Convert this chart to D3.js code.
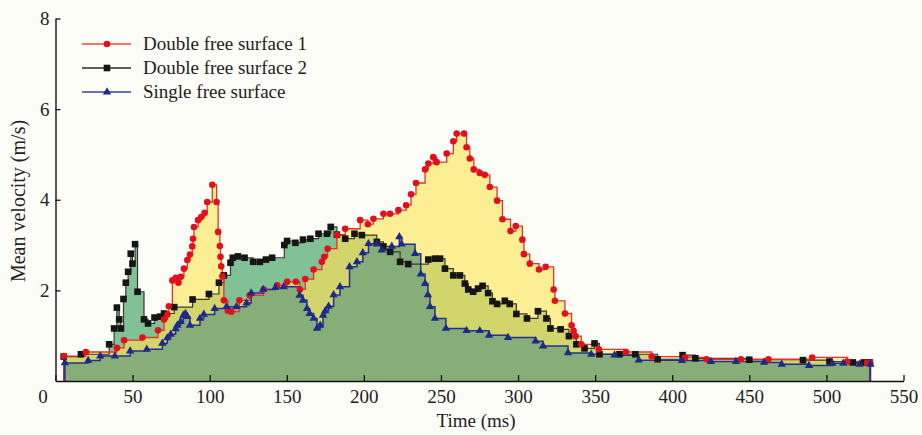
<!DOCTYPE html>
<html><head><meta charset="utf-8">
<script src="https://cdn.jsdelivr.net/npm/d3@7"></script>
<style>
body{margin:0;background:#fdfdf8;}
svg{display:block;font-family:"Liberation Serif","Times New Roman",serif;}
</style>
</head><body>
<svg id="chart" width="922" height="435"></svg>
<script>
// ---------- data ----------
const seriesNames = ["Double free surface 1", "Double free surface 2", "Single free surface"];
const xTicks = [0, 50, 100, 150, 200, 250, 300, 350, 400, 450, 500, 550];
const yTicks = [2, 4, 6, 8];

const timeRed = [5.5,19.7,39.8,44.5,56.4,66.5,70.4,72.6,73.5,75.8,78,79.7,81.2,83.3,85.5,87.2,88.7,89.2,89.8,92.5,94.5,96.7,98.4,101.7,104.5,105.5,106.6,107,107.5,108.2,109.2,111.8,114,119.3,126,135,143.7,150.2,156,158.5,162,167.4,172.8,174.3,176.5,182.5,187.9,197.6,202.6,206.2,212.7,217,222.4,227.4,230.6,233.8,239.7,241.8,245,247.2,253.7,258,260.2,265,266.6,268.7,271.3,275.2,278.4,281.7,286.4,289.9,295.1,298.5,302.8,303.8,307.6,313.6,317.9,323.1,323.9,330.4,334.7,336,337.3,341,352.4,370,386.7,408.3,422.3,444.5,462.4,490.8,513.5,526.4,528.5];
const velRed  = [0.55,0.64,0.73,0.90,0.96,1.12,1.36,1.47,1.65,2.22,2.28,2.17,2.30,2.48,2.67,2.79,2.97,3.14,3.40,3.55,3.62,3.71,3.95,4.33,3.95,3.29,2.98,2.74,2.53,2.31,1.78,1.55,1.53,1.78,1.89,2.02,2.11,2.19,2.19,2.02,2.25,2.46,2.63,2.74,2.92,3.22,3.36,3.55,3.46,3.58,3.69,3.69,3.77,3.88,4.12,4.37,4.67,4.80,4.94,4.83,5.02,5.29,5.46,5.46,5.16,4.91,4.67,4.59,4.55,4.28,3.98,3.57,3.31,3.42,3.12,2.80,2.59,2.46,2.52,2.02,1.77,1.49,1.23,1.11,0.99,0.81,0.70,0.64,0.54,0.52,0.48,0.48,0.48,0.52,0.43,0.40,0.40];

const timeBlack = [5.3,16.5,34.8,38,39.8,41.3,42.4,44.1,45.6,47.1,48.8,49.9,51.6,53.2,57.4,60,64.2,67.8,70.4,77,88.9,99.5,106,109.2,113.5,115,118.3,122.6,128.2,132.5,136.5,140.5,148.4,150.2,155.6,160.5,165.3,170.6,176.1,178.5,182.5,187.9,193.9,198.7,208.4,212.7,217,223.5,228.8,241.8,246.1,249.4,252.6,258,262.3,265.5,267.7,270.9,274.1,277,280.6,283.4,286.4,291.4,294.6,298.9,305.8,312.9,318.4,321,327.6,333,337.8,343.1,349.6,352.8,365.8,376.1,390.5,406.7,415,450,484.8,502,517.1,524.3,528];
const velBlack  = [0.54,0.59,0.81,1.16,1.62,1.36,1.16,1.81,2.17,2.41,2.81,2.59,3.02,1.97,1.36,1.27,1.40,1.42,1.49,1.63,1.80,1.92,2.17,2.33,2.61,2.72,2.75,2.72,2.63,2.63,2.68,2.72,3.00,3.09,3.05,3.12,3.14,3.25,3.25,3.40,3.23,3.14,3.25,3.22,3.07,2.97,2.85,2.63,2.58,2.68,2.70,2.70,2.48,2.33,2.33,2.15,2.02,1.97,2.04,2.10,1.94,1.76,1.70,1.77,1.70,1.48,1.38,1.54,1.38,1.16,1.14,0.99,0.81,0.72,0.83,0.59,0.59,0.59,0.48,0.57,0.50,0.47,0.46,0.43,0.41,0.41,0.41];

const timeBlue = [6.1,21.2,29,38.5,48.4,59.2,69.3,72.5,74.7,77.9,79,81.2,82.9,84.3,85.5,87.2,93.7,96.2,103.2,110.9,117.4,123.9,126.9,134.7,142.6,148,158.3,160.5,163.1,164.8,167.4,169.6,171.7,173.5,175,177.1,180.4,184.5,190.7,195.5,199.3,203,208.4,211.6,218.1,223,224.5,233.2,236.9,239.7,241.5,242.9,246.1,253.2,266.6,275.2,281.2,293.5,311.4,316.2,332.4,347.5,362.6,378.3,406.3,425.1,441.3,459.6,471,488.7,503.8,510.9,521.5,528.6];
const velBlue  = [0.40,0.45,0.55,0.55,0.66,0.70,0.83,0.95,1.03,1.15,1.23,1.31,1.45,1.49,1.42,1.23,1.38,1.47,1.60,1.64,1.64,1.72,1.94,2.02,2.06,2.08,1.89,1.78,1.60,1.49,1.38,1.16,1.23,1.45,1.55,1.65,1.90,2.08,2.52,2.63,2.83,3.03,3.02,2.89,2.97,3.18,3.02,2.81,2.36,2.15,1.90,1.64,1.38,1.16,1.11,1.11,1.01,0.96,0.88,0.77,0.62,0.59,0.57,0.46,0.45,0.43,0.43,0.41,0.37,0.34,0.39,0.39,0.37,0.37];

// ---------- setup ----------
const svg = d3.select("#chart");
const x = d3.scaleLinear().domain([0, 550]).range([55.5, 903.5]);
const y = d3.scaleLinear().domain([0, 8]).range([381, 18.5]);

const zip = (ts, vs) => ts.map((t, i) => ({t, v: vs[i]}));
const red = zip(timeRed, velRed), black = zip(timeBlack, velBlack), blue = zip(timeBlue, velBlue);

function valAt(s, t) {
  if (t < s[0].t || t > s[s.length - 1].t) return 0;
  const i = d3.bisectRight(s.map(d => d.t), t) - 1;
  return s[i].v;
}
// overlap of red & black step curves
const t0 = Math.max(red[0].t, black[0].t), t1 = Math.min(red[red.length-1].t, black[black.length-1].t);
const ts = Array.from(new Set([...timeRed, ...timeBlack])).filter(t => t >= t0 && t <= t1).sort((a,b)=>a-b);
const overlap = ts.map(t => ({t, v: Math.min(valAt(red, t), valAt(black, t))}));

const area = d3.area().curve(d3.curveStepAfter).x(d => x(d.t)).y0(y(0)).y1(d => y(d.v));
const line = d3.line().curve(d3.curveStepAfter).x(d => x(d.t)).y(d => y(d.v));

const cYellow = "#fcef93", cTeal = "#80c195", cOlive = "#d2d46c", cGreen = "#87ad78";
const cRed = "#e8302c", cBlack = "#1c1c1c", cBlue = "#25308c";

svg.append("path").attr("d", area(red)).attr("fill", cYellow);
svg.append("path").attr("d", area(black)).attr("fill", cTeal);
svg.append("path").attr("d", area(overlap)).attr("fill", cOlive);
svg.append("path").attr("d", area(blue)).attr("fill", cGreen);

// closed outlines (include verticals down to baseline)
function outline(s){ return line([{t:s[0].t, v:0}, ...s, {t:s[s.length-1].t, v:0}]); }
svg.append("path").attr("d", outline(black)).attr("fill","none").attr("stroke","#3a3a30").attr("stroke-width",1.2);
svg.append("path").attr("d", outline(red)).attr("fill","none").attr("stroke",cRed).attr("stroke-width",1.3);
svg.append("path").attr("d", outline(blue)).attr("fill","none").attr("stroke",cBlue).attr("stroke-width",1.5);

// markers
const gM = svg.append("g");
gM.selectAll(".mb").data(black).join("rect")
  .attr("x", d => x(d.t) - 3.3).attr("y", d => y(d.v) - 3.3)
  .attr("width", 6.6).attr("height", 6.6).attr("fill", "#151515");
gM.selectAll(".mr").data(red).join("circle")
  .attr("cx", d => x(d.t)).attr("cy", d => y(d.v)).attr("r", 3.3).attr("fill", "#e2101c");
const tri = d3.symbol().type(d3.symbolTriangle).size(30);
gM.selectAll(".mt").data(blue).join("path")
  .attr("d", tri).attr("transform", d => `translate(${x(d.t)},${y(d.v)})`).attr("fill", "#1e2a88");

// ---------- axes ----------
const fs = 19;
const gx = svg.append("g").attr("transform", `translate(0,${y(0)})`)
  .call(d3.axisBottom(x).tickValues(xTicks).tickSizeInner(-6).tickSizeOuter(0).tickPadding(9)
    .tickFormat(d => d === 0 ? "" : d));
const gy = svg.append("g").attr("transform", `translate(${x(0)},0)`)
  .call(d3.axisLeft(y).tickValues(yTicks).tickSizeInner(-5).tickSizeOuter(0).tickPadding(6));
[gx, gy].forEach(g => {
  g.select(".domain").attr("stroke", "#111").attr("stroke-width", 1.4);
  g.selectAll(".tick line").attr("stroke", "#111").attr("stroke-width", 1.3);
  g.selectAll("text").attr("font-size", fs).attr("fill", "#222").attr("font-family", "Liberation Serif");
});
svg.append("text").attr("x", 43).attr("y", y(0) + 9).attr("dy", "0.71em").attr("text-anchor", "middle")
  .attr("font-size", fs).attr("fill", "#222").text(xTicks[0]);

svg.append("text").attr("x", 476).attr("y", 427).attr("text-anchor", "middle")
  .attr("font-size", fs).attr("fill", "#222").text("Time (ms)");
svg.append("text").attr("transform", "translate(25,201) rotate(-90)").attr("text-anchor", "middle")
  .attr("font-size", 20).attr("fill", "#222").text("Mean velocity (m/s)");

// ---------- legend ----------
const legColors = ["#ef4b3c", "#2a2a2a", "#3a40a0"];
const legY = [44, 68, 92];
const lg = svg.append("g");
seriesNames.forEach((name, i) => {
  lg.append("line").attr("x1", 82).attr("x2", 131).attr("y1", legY[i]).attr("y2", legY[i])
    .attr("stroke", legColors[i]).attr("stroke-width", 1.6);
  if (i === 0) lg.append("circle").attr("cx", 107).attr("cy", legY[i]).attr("r", 3.3).attr("fill", "#e2101c");
  if (i === 1) lg.append("rect").attr("x", 103.7).attr("y", legY[i]-3.3).attr("width", 6.6).attr("height", 6.6).attr("fill", "#151515");
  if (i === 2) lg.append("path").attr("d", tri).attr("transform", `translate(107,${legY[i]})`).attr("fill", "#1e2a88");
  lg.append("text").attr("x", 143).attr("y", legY[i] + 6).attr("font-size", fs).attr("fill", "#222").text(name);
});
</script>
</body></html>
